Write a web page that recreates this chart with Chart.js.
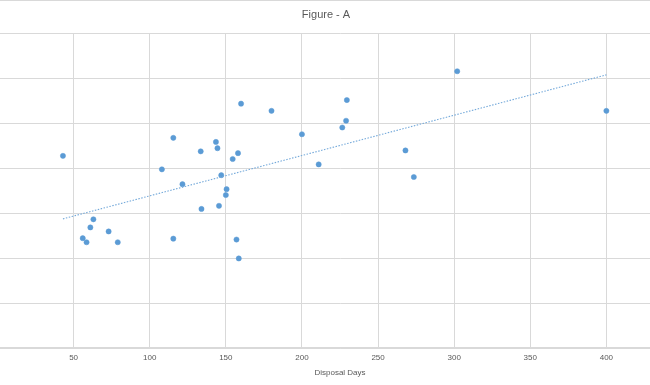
<!DOCTYPE html>
<html>
<head>
<meta charset="utf-8">
<script src="https://cdn.jsdelivr.net/npm/chart.js@4.4.1/dist/chart.umd.min.js"></script>
<style>
  html,body{margin:0;padding:0;background:#fff}
  #wrap{position:relative;width:650px;height:385px;overflow:hidden;background:#fff}
  #wrap canvas{position:absolute;left:-7px;top:0}
  #edge{position:absolute;left:0;top:0;width:650px;height:1px;background:#d9d9d9}
</style>
</head>
<body>
<div id="wrap">
  <canvas id="chart" width="694" height="385"></canvas>
  <div id="edge"></div>
</div>
<script>
'use strict';

// disposal days (x) and value (y)
const days = [43, 63, 61, 73, 56, 58.5, 79, 160, 115.5, 143.5, 144.5, 133.5, 158, 154.5, 108, 147, 121.5, 150.5, 150, 145.5, 134, 115.5, 157, 158.5, 302, 229.5, 180, 229, 226.5, 200, 268, 211, 273.5, 400];
const vals = [42.7, 28.6, 26.8, 25.9, 24.4, 23.5, 23.5, 54.3, 46.7, 45.8, 44.4, 43.7, 43.3, 42.0, 39.7, 38.4, 36.4, 35.3, 34.0, 31.6, 30.9, 24.3, 24.1, 19.9, 61.5, 55.1, 52.7, 50.5, 49.0, 47.5, 43.9, 40.8, 38.0, 52.7];

// linear trendline ends
const trendX = [43, 400];
const trendY = [28.7, 60.7];

const xTicks = [0, 50, 100, 150, 200, 250, 300, 350, 400];
const yTicks = [0, 10, 20, 30, 40, 50, 60, 70];

const GRID = '#d9d9d9';
const TEXT = '#595959';

// chart title sits centered on the whole original figure, not the plot
const figTitle = {
  id: 'figTitle',
  afterDraw(c) {
    const ctx = c.ctx;
    ctx.save();
    ctx.font = '11px "Liberation Sans", Arial, sans-serif';
    ctx.fillStyle = TEXT;
    ctx.textAlign = 'center';
    ctx.textBaseline = 'middle';
    ctx.fillText('Figure - A', 333, 15);
    ctx.restore();
  }
};

new Chart(document.getElementById('chart'), {
  type: 'scatter',
  data: {
    datasets: [
      {
        label: 'Disposal',
        data: days.map((d, i) => ({x: d, y: vals[i]})),
        backgroundColor: '#5b9bd5',
        borderColor: '#5b9bd5',
        borderWidth: 0.5,
        pointRadius: 2.6,
        order: 1
      },
      {
        label: 'Trend',
        type: 'line',
        data: trendX.map((d, i) => ({x: d, y: trendY[i]})),
        borderColor: '#74a9da',
        borderWidth: 1.1,
        borderDash: [1.5, 1.5],
        pointRadius: 0,
        fill: false,
        order: 0
      }
    ]
  },
  options: {
    responsive: false,
    animation: false,
    layout: {padding: {top: 33, left: 0, right: 0, bottom: 0}},
    plugins: {legend: {display: false}, tooltip: {enabled: false}, title: {display: false}},
    scales: {
      x: {
        type: 'linear', min: 0, max: 450,
        afterBuildTicks: s => { s.ticks = xTicks.map(v => ({value: v})); },
        afterFit: s => { s.height = 37; s.paddingLeft = 0; s.paddingRight = 0; },
        grid: {color: GRID, drawTicks: false},
        border: {color: GRID, width: 1.5},
        ticks: {color: TEXT, padding: 5, maxRotation: 0, font: {family: '"Liberation Sans", Arial, sans-serif', size: 8}},
        title: {display: true, text: 'Disposal Days', color: TEXT, padding: {top: 0, bottom: 7}, font: {family: '"Liberation Sans", Arial, sans-serif', size: 8}}
      },
      y: {
        type: 'linear', min: 0, max: 70,
        afterBuildTicks: s => { s.ticks = yTicks.map(v => ({value: v})); },
        afterFit: s => { s.width = 0; s.paddingTop = 0; s.paddingBottom = 0; },
        grid: {color: GRID, drawTicks: false},
        border: {display: false},
        ticks: {display: false}
      }
    }
  },
  plugins: [figTitle]
});
</script>
</body>
</html>
